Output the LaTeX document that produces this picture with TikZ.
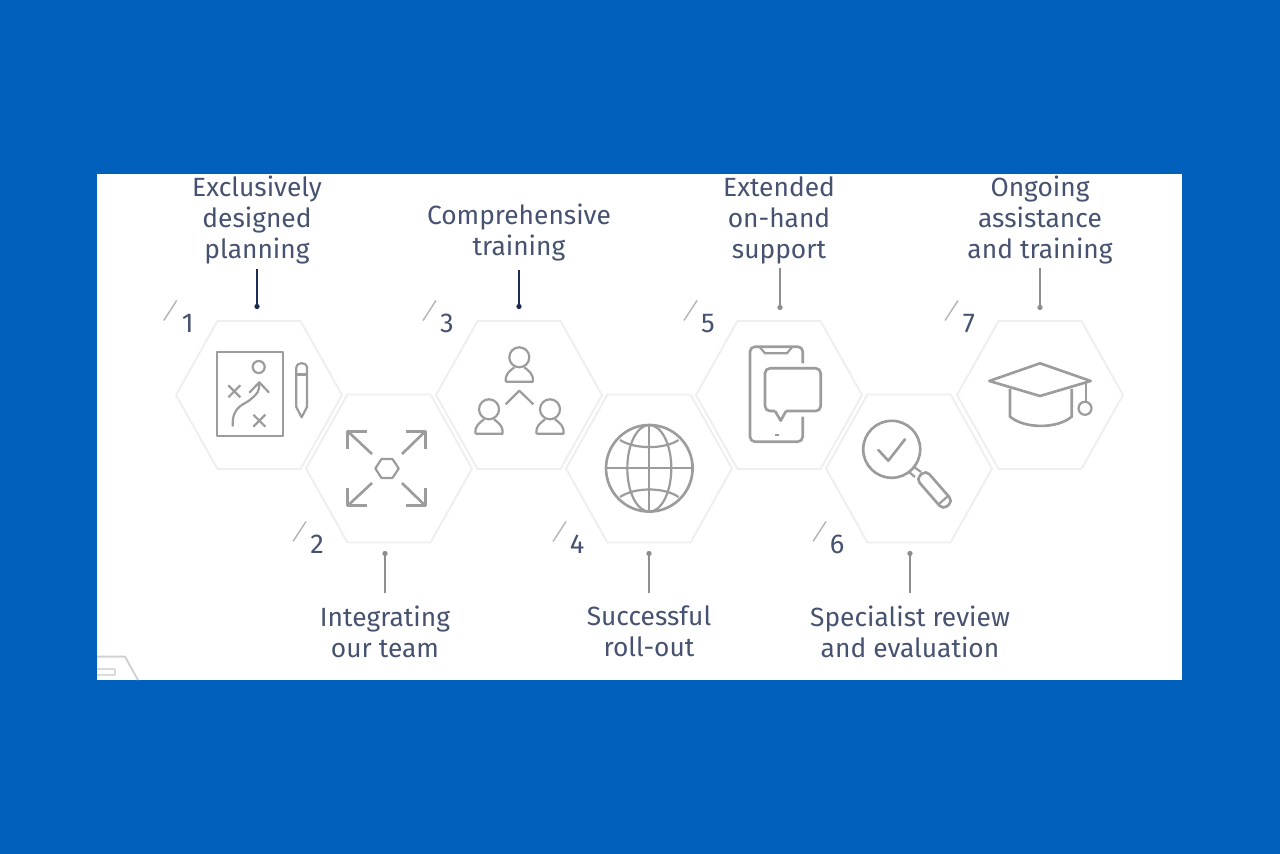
\documentclass[tikz,border=0pt]{standalone}
\usepackage{fontspec}
\setmainfont{Fira Sans}
\usetikzlibrary{calc}
\definecolor{bgblue}{HTML}{0060BC}
\definecolor{hexgray}{HTML}{EFEFEF}
\definecolor{icongray}{HTML}{9C9C9C}
\definecolor{textnavy}{HTML}{465270}
\definecolor{darkconn}{HTML}{1C2D52}
\definecolor{lightconn}{HTML}{8E8E8E}
\definecolor{slashgray}{HTML}{B4B4B4}
\tikzset{
  x=0.02cm,y=-0.02cm,
  hexline/.style={draw=hexgray,line width=1.1pt,line join=round},
  icon/.style={draw=icongray,line width=1.5pt,line join=round},
  thinicon/.style={draw=icongray,line width=1.25pt,line join=round},
  lbl/.style={font=\fontsize{15}{17.65}\selectfont,text=textnavy,align=center,inner xsep=0pt,inner ysep=1pt},
  num/.style={font=\fontsize{15.5}{17}\selectfont,text=textnavy,inner sep=0pt},
  slash/.style={draw=slashgray,line width=0.8pt},
  dotdark/.style={circle,fill=darkconn,inner sep=0pt,minimum size=3pt},
  dotlight/.style={circle,fill=lightconn,inner sep=0pt,minimum size=3pt},
  conndark/.style={draw=darkconn,line width=0.8pt},
  connlight/.style={draw=lightconn,line width=0.8pt},
}
\newcommand{\hexcell}[3]{%
  \draw[hexline] (#2-83,#3) -- (#2-41.5,#3-74) -- (#2+41.5,#3-74) -- (#2+83,#3) -- (#2+41.5,#3+74) -- (#2-41.5,#3+74) -- cycle;
}
\newcommand{\hexnum}[4]{%
  \draw[slash] (#2,#3) -- (#2+13,#3-20);
  \node[num] (#1) at (#2+24,#3+3) {#4};
}
\newcommand{\person}[2]{%
  \draw[thinicon] (#1,#2) circle[radius=10];
  \draw[thinicon] (#1-13.5,#2+24.5) .. controls (#1-14.5,#2+16) and (#1-9,#2+13.5) .. (#1-5,#2+10) (#1+5,#2+10) .. controls (#1+9,#2+13.5) and (#1+14.5,#2+16) .. (#1+13.5,#2+24.5) -- (#1-13.5,#2+24.5);
}
\begin{document}
\begin{tikzpicture}
\useasboundingbox (0,0) rectangle (1280,854);
\fill[bgblue] (0,0) rectangle (1280,854);
\fill[white] (97,174) rectangle (1182,680);

% corner fragment
\begin{scope}
\clip (97,640) rectangle (160,680);
\draw[hexline,draw=black!18] (90,656.7) -- (125,656.7) -- (138,680);
\draw[hexline,draw=black!14,line width=0.7pt] (90,669) -- (115,669) -- (115,675) -- (90,675);
\end{scope}

% hexagons
\hexcell{h1}{259}{395}
\hexcell{h2}{389}{468.5}
\hexcell{h3}{519}{395}
\hexcell{h4}{649}{468.5}
\hexcell{h5}{779}{395}
\hexcell{h6}{909}{468.5}
\hexcell{h7}{1040}{395}

% numbers
\hexnum{n1}{163.7}{320.5}{1}
\hexnum{n3}{423}{320.5}{3}
\hexnum{n5}{684}{320.5}{5}
\hexnum{n7}{945}{320.5}{7}
\hexnum{n2}{293}{541.5}{2}
\hexnum{n4}{553}{541.5}{4}
\hexnum{n6}{813}{541.5}{6}

% labels
\node[lbl,anchor=south] (l1) at (257,266) {Exclusively\\designed\\planning};
\node[lbl,anchor=south] (l3) at (519,263) {Comprehensive\\training};
\node[lbl,anchor=south] (l5) at (779,266) {Extended\\on-hand\\support};
\node[lbl,anchor=south] (l7) at (1040,266) {Ongoing\\assistance\\and training};
\node[lbl,anchor=north] (l2) at (385,604) {Integrating\\our team};
\node[lbl,anchor=north] (l4) at (649,604) {Successful\\roll-out};
\node[lbl,anchor=north] (l6) at (910,604) {Specialist review\\and evaluation};

% connectors
\node[dotdark] (d1) at (257,306.5) {};
\node[dotdark] (d3) at (519,306.5) {};
\node[dotlight] (d5) at (780,307.5) {};
\node[dotlight] (d7) at (1040,307.5) {};
\node[dotlight] (d2) at (385,553.5) {};
\node[dotlight] (d4) at (649,553.5) {};
\node[dotlight] (d6) at (910,553.5) {};
\draw[conndark,shorten >=1.7pt] (d1) -- (d1 |- l1.south);
\draw[conndark,shorten >=4pt] (d3) -- (d3 |- l3.south);
\draw[connlight,shorten >=1.2pt] (d5) -- (d5 |- l5.south);
\draw[connlight,shorten >=1.2pt] (d7) -- (d7 |- l7.south);
\draw[connlight,shorten >=6.3pt] (d2) -- (d2 |- l2.north);
\draw[connlight,shorten >=6.3pt] (d4) -- (d4 |- l4.north);
\draw[connlight,shorten >=6.3pt] (d6) -- (d6 |- l6.north);

% icon 1: tactics board and pencil
\draw[icon] (217,352) rectangle (283,436);
\draw[thinicon] (258.7,367) circle[radius=6];
\draw[thinicon,line cap=round] (232.7,425.7) .. controls (232,405) and (245,405) .. (251,399) .. controls (258,393) and (259,392) .. (259.3,383);
\draw[thinicon,line cap=round] (249.7,392.3) -- (259.3,382.3) -- (268.7,392.3);
\draw[thinicon] (228.3,385.3) -- (240.3,397.3) (240.3,385.3) -- (228.3,397.3);
\draw[thinicon] (253.3,414.7) -- (265.3,426.7) (265.3,414.7) -- (253.3,426.7);
\draw[thinicon] (296.3,407) -- (296.3,368) .. controls (296.3,361.5) and (307,361.5) .. (307,368) -- (307,407) -- (301.6,417.3) -- cycle;
\draw[thinicon] (296.3,374.5) -- (307,374.5);

% icon 2: expanding arrows
\draw[thinicon] (375.3,468.5) -- (381.5,459) -- (392.5,459) -- (398.7,468.5) -- (392.5,478) -- (381.5,478) -- cycle;
\draw[icon] (367,431.3) -- (347.7,431.3) -- (347.7,449);
\draw[icon] (347.7,431.3) -- (372,454);
\draw[icon] (406.3,431.3) -- (425.3,431.3) -- (425.3,449);
\draw[icon] (425.3,431.3) -- (402,454);
\draw[icon] (367,505.7) -- (347.7,505.7) -- (347.7,488);
\draw[icon] (347.7,505.7) -- (372,483);
\draw[icon] (406.3,505.7) -- (425.3,505.7) -- (425.3,488);
\draw[icon] (425.3,505.7) -- (402,483);

% icon 3: people
\person{519.3}{357.3}
\person{489}{409.3}
\person{550}{409.3}
\draw[thinicon] (505.7,404.3) -- (519.3,390.7) -- (533.3,404.3);

% icon 4: globe
\draw[icon] (649.3,468.3) circle[radius=43.3];
\draw[thinicon] (649.3,425) -- (649.3,511.6) (606,468.3) -- (692.6,468.3);
\draw[thinicon] (649.3,468.3) ellipse[x radius=22,y radius=43.3];
\draw[thinicon] (620,440) .. controls (635,449.5) and (664,449.5) .. (678.5,440);
\draw[thinicon] (620,497) .. controls (635,487) and (664,487) .. (678.5,497);

% icon 5: phone and bubble
\draw[icon,rounded corners=2.8pt] (802.7,363.3) -- (802.7,346.7) -- (750,346.7) -- (750,441.7) -- (802.7,441.7) -- (802.7,416.7);
\draw[thinicon] (760,347.5) -- (765,353.3) -- (787,353.3) -- (791.7,347.5);
\draw[thinicon] (775,434.7) -- (778.5,434.7);
\draw[icon,rounded corners=2.8pt] (775,411) -- (765,411) -- (765,368.3) -- (820.7,368.3) -- (820.7,411) -- (786,411);
\draw[icon] (775,411) -- (780.7,420.7) -- (786,411);

% icon 6: magnifier
\draw[icon] (891.7,449.3) circle[radius=28.5];
\draw[icon,line cap=round] (878.3,450) -- (888.3,460.7) -- (905,439.3);
\draw[thinicon] (909,472) -- (915,477) (914,467) -- (921,472);
\begin{scope}[shift={(921,474.5)},rotate=-49]
\draw[icon,rounded corners=3pt] (0,-6.5) rectangle (41,6.5);
\draw[thinicon] (34,-6.5) -- (34,6.5);
\end{scope}

% icon 7: mortarboard
\draw[icon] (1040,363.3) -- (1090.7,381) -- (1040,396) -- (989.3,381) -- cycle;
\draw[icon] (1010,389) -- (1010,416.7) .. controls (1025,429) and (1057,429) .. (1071.7,416.7) -- (1071.7,389);
\draw[thinicon] (1085.7,383) -- (1085.7,402);
\draw[thinicon] (1085,408.3) circle[radius=6.5];
\end{tikzpicture}
\end{document}
